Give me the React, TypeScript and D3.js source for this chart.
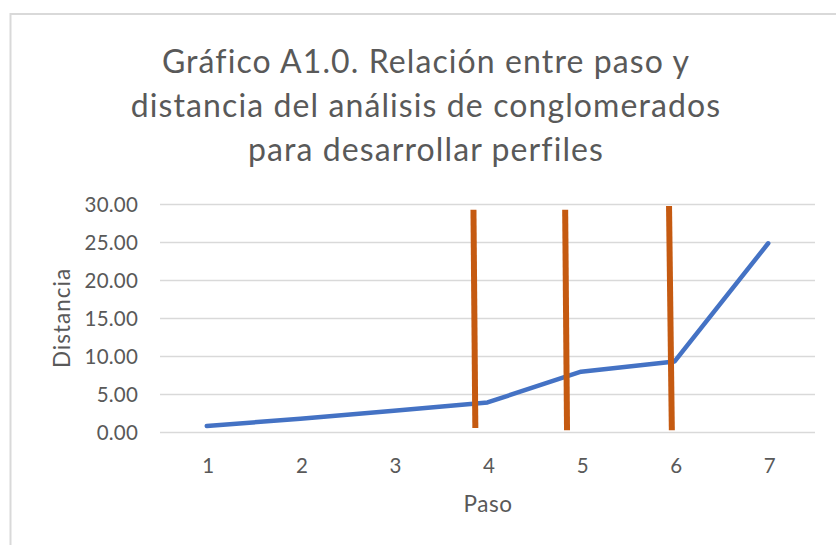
import React from "react";
import * as d3 from "d3";

const steps = [1, 2, 3, 4, 5, 6, 7];
const distances = [0.86, 1.8, 2.85, 3.95, 8.0, 9.35, 24.9];
const yTicks = [0, 5, 10, 15, 20, 25, 30];
// cut markers drawn over the chart: position on step axis, bottom and top values
const cutX1 = [3.85, 4.83, 5.94];
const cutX2 = [3.87, 4.85, 5.97];
const cutBottom = [0.6, 0.3, 0.3];
const cutTop = [29.3, 29.3, 29.8];
const titleLines = [
  "Gráfico A1.0. Relación entre paso y",
  "distancia del análisis de conglomerados",
  "para desarrollar perfiles",
];

const W = 836;
const H = 545;
const FONT = "Lato, 'Open Sans', sans-serif";

export default function App() {
  const x = d3.scaleLinear().domain([0.5, 7.5]).range([160, 815]);
  const y = d3.scaleLinear().domain([0, 30]).range([432.5, 204.5]);
  const line = d3
    .line<number>()
    .x((_, i) => x(steps[i]))
    .y((d) => y(d));

  return (
    <svg
      width={W}
      height={H}
      style={{ position: "absolute", left: 0, top: 0, background: "#fff" }}
    >
      <rect x={0} y={0} width={W} height={H} fill="#fff" />
      <rect
        x={10.5}
        y={14}
        width={W + 20}
        height={H + 20}
        fill="none"
        stroke="#d9d9d9"
        strokeWidth={2}
      />
      {titleLines.map((t, i) => (
        <text
          key={i}
          x={426}
          y={73 + i * 44}
          textAnchor="middle"
          fontFamily={FONT}
          fontSize={32}
          letterSpacing={1.1}
          fill="#595959"
        >
          {t}
        </text>
      ))}
      {yTicks.map((t) => (
        <g key={t}>
          <line
            x1={x(0.5)}
            x2={x(7.5)}
            y1={y(t)}
            y2={y(t)}
            stroke="#d9d9d9"
            strokeWidth={1.5}
          />
          <text
            x={138}
            y={y(t)}
            dy="0.36em"
            textAnchor="end"
            fontFamily={FONT}
            fontSize={20.5}
            letterSpacing={0.2}
            fill="#595959"
          >
            {t.toFixed(2)}
          </text>
        </g>
      ))}
      {steps.map((s) => (
        <text
          key={s}
          x={x(s) + 1.5}
          y={473}
          textAnchor="middle"
          fontFamily={FONT}
          fontSize={20.5}
          fill="#595959"
        >
          {s}
        </text>
      ))}
      <text
        x={488}
        y={512}
        textAnchor="middle"
        fontFamily={FONT}
        fontSize={22.5}
        letterSpacing={0.6}
        fill="#595959"
      >
        Paso
      </text>
      <text
        transform={`translate(70,${318}) rotate(-90)`}
        textAnchor="middle"
        fontFamily={FONT}
        fontSize={22.5}
        letterSpacing={1}
        fill="#595959"
      >
        Distancia
      </text>
      <path
        d={line(distances) || ""}
        fill="none"
        stroke="#4472c4"
        strokeWidth={4.5}
        strokeLinejoin="round"
        strokeLinecap="round"
      />
      {cutX1.map((cx, i) => (
        <line
          key={i}
          x1={x(cx)}
          x2={x(cutX2[i])}
          y1={y(cutTop[i])}
          y2={y(cutBottom[i])}
          stroke="#c55a11"
          strokeWidth={6}
        />
      ))}
    </svg>
  );
}
